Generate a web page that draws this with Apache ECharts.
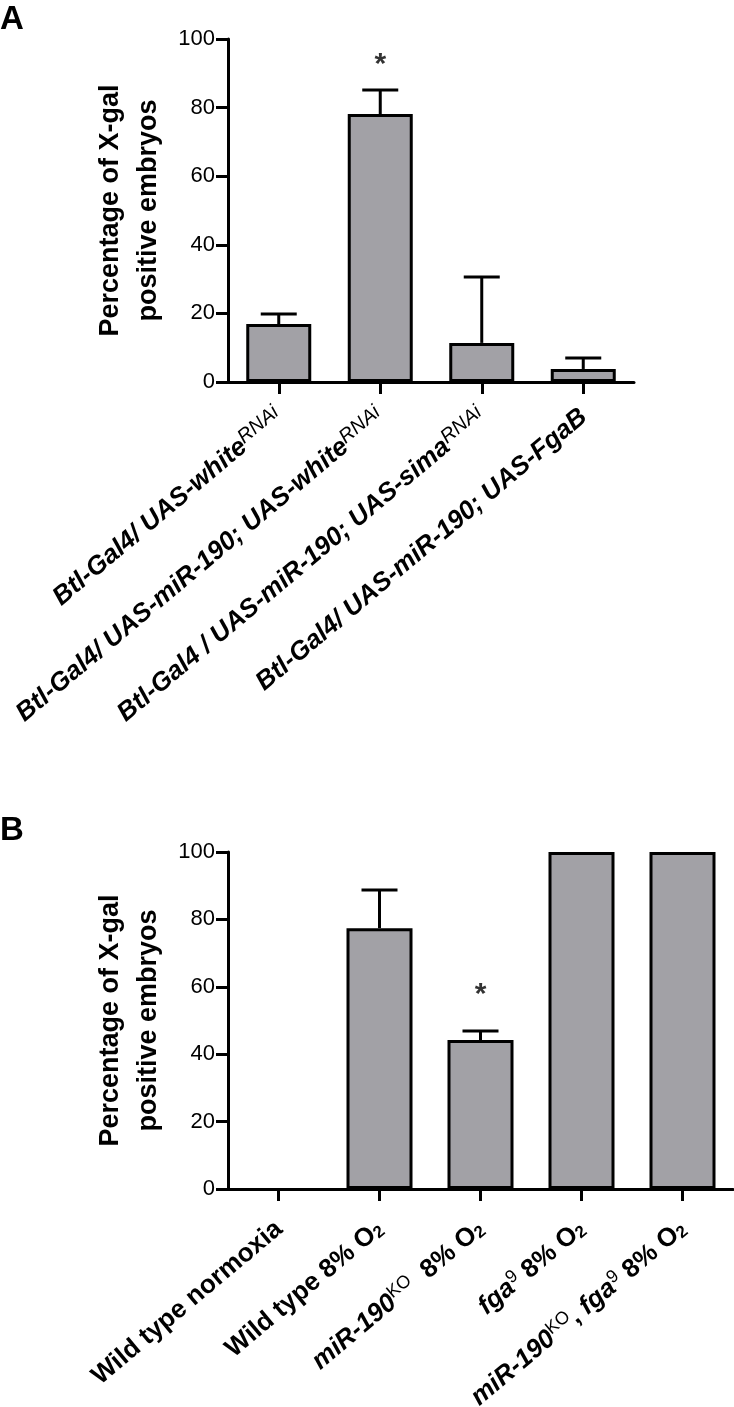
<!DOCTYPE html>
<html>
<head>
<meta charset="utf-8">
<script src="https://cdn.jsdelivr.net/npm/echarts@6/dist/echarts.min.js"></script>
<style>
    html, body { margin: 0; padding: 0; background: #fff; }
    #myChart { width: 734px; height: 1407px; }
</style>
</head>
<body>
<div id="myChart"></div>
<script>
    // panel A
    var catA = [
        '{b|Btl-Gal4/ UAS-white}{s|RNAi}',
        '{b|Btl-Gal4/ UAS-miR-190; UAS-white}{s|RNAi}',
        '{b|Btl-Gal4 / UAS-miR-190; UAS-sima}{s|RNAi}',
        '{b|Btl-Gal4/ UAS-miR-190; UAS-FgaB}'
    ];
    var valA = [16.9, 78.1, 11.4, 3.8];
    var errA = [19.8, 85.1, 30.6, 7.0];
    var starA = [null, 92.5, null, null];

    // panel B
    var catB = [
        '{u|Wild type normoxia}',
        '{u|Wild type 8% O}{sub|2}',
        '{i|miR-190}{sup|KO}{u|  8% O}{sub|2}',
        '{i|fga}{sup|9}{u| 8% O}{sub|2}',
        '{i|miR-190}{sup|KO}{u|, }{i|fga}{sup|9}{u| 8% O}{sub|2}'
    ];
    var valB = [0, 77.4, 44.2, 100, 100];
    var errB = [null, 88.7, 46.9, null, null];
    var starB = [null, null, 57.5, null, null];

    var yTicks = [0, 20, 40, 60, 80, 100];

    var font = 'Liberation Sans, Arial, sans-serif';
    var barFill = '#a2a1a6';

    function errorSeries (idx, vals, errs) {
        return {
            type: 'custom',
            xAxisIndex: idx,
            yAxisIndex: idx,
            z: 1,
            data: vals.map(function (v, i) { return [i, v, errs[i] == null ? -1 : errs[i]]; }),
            renderItem: function (params, api) {
                var top = api.value(2);
                if (!(top > 0)) return;
                var p0 = api.coord([api.value(0), api.value(1)]);
                var p1 = api.coord([api.value(0), top]);
                var st = {stroke: '#000', lineWidth: 3};
                return {
                    type: 'group',
                    children: [
                        {type: 'line', shape: {x1: p0[0], y1: p0[1], x2: p1[0], y2: p1[1]}, style: st},
                        {type: 'line', shape: {x1: p1[0] - 18, y1: p1[1], x2: p1[0] + 18, y2: p1[1]}, style: st}
                    ]
                };
            }
        };
    }

    function starSeries (idx, vals) {
        return {
            type: 'scatter',
            xAxisIndex: idx,
            yAxisIndex: idx,
            symbolSize: 1,
            itemStyle: {color: 'transparent'},
            data: vals,
            label: {
                show: true,
                position: 'inside',
                formatter: '*',
                color: '#000',
                fontSize: 30,
                fontWeight: 'bold',
                fontFamily: font
            }
        };
    }

    function barData (vals) {
        // a zero bar has no outline in the original
        return vals.map(function (v) {
            return v === 0 ? {value: v, itemStyle: {borderWidth: 0}} : v;
        });
    }

    function yAxisFor (idx) {
        return {
            type: 'value',
            gridIndex: idx,
            min: yTicks[0],
            max: yTicks[yTicks.length - 1],
            interval: yTicks[1] - yTicks[0],
            name: 'Percentage of X-gal\npositive embryos',
            nameLocation: 'middle',
            nameGap: 60,
            nameTextStyle: {
                fontFamily: font,
                fontWeight: 'bold',
                fontSize: 27,
                lineHeight: 38,
                color: '#000'
            },
            axisLine: {show: true, lineStyle: {color: '#000', width: 3}},
            axisTick: {show: true, length: 12, lineStyle: {color: '#000', width: 3}},
            axisLabel: {color: '#000', fontSize: 22, fontFamily: font, margin: 13},
            splitLine: {show: false}
        };
    }

    var axisLineStyle = {show: true, lineStyle: {color: '#000', width: 3}};
    var axisTickStyle = {show: true, length: 12, alignWithLabel: true, lineStyle: {color: '#000', width: 3}};

    var myChart = echarts.init(document.getElementById('myChart'));
    myChart.setOption({
        backgroundColor: '#fff',
        animation: false,
        title: [
            {text: 'A', left: 0, top: 3, padding: 0, textStyle: {fontFamily: font, fontWeight: 'bold', fontSize: 33, color: '#000'}},
            {text: 'B', left: 0, top: 814, padding: 0, textStyle: {fontFamily: font, fontWeight: 'bold', fontSize: 33, color: '#000'}}
        ],
        grid: [
            {left: 228, top: 39, width: 406, height: 343, containLabel: false, outerBoundsMode: 'none'},
            {left: 228, top: 852, width: 505, height: 337, containLabel: false, outerBoundsMode: 'none'}
        ],
        xAxis: [
            {
                type: 'category',
                gridIndex: 0,
                data: catA,
                axisLine: axisLineStyle,
                axisTick: axisTickStyle,
                axisLabel: {
                    interval: 0,
                    rotate: 40,
                    margin: 31,
                    color: '#000',
                    rich: {
                        b: {fontFamily: font, fontWeight: 'bold', fontStyle: 'italic', fontSize: 26, lineHeight: 28, verticalAlign: 'bottom', color: '#000'},
                        s: {fontFamily: font, fontStyle: 'italic', fontSize: 20, lineHeight: 20, padding: [0, 0, 38, 0], verticalAlign: 'top', color: '#000'}
                    }
                }
            },
            {
                type: 'category',
                gridIndex: 1,
                data: catB,
                axisLine: axisLineStyle,
                axisTick: axisTickStyle,
                axisLabel: {
                    interval: 0,
                    rotate: 40,
                    margin: 36,
                    color: '#000',
                    rich: {
                        u: {fontFamily: font, fontWeight: 'bold', fontSize: 26, lineHeight: 28, verticalAlign: 'bottom', color: '#000'},
                        i: {fontFamily: font, fontWeight: 'bold', fontStyle: 'italic', fontSize: 26, lineHeight: 28, verticalAlign: 'bottom', color: '#000'},
                        sup: {fontFamily: font, fontSize: 18, lineHeight: 18, padding: [0, 0, 34, 0], verticalAlign: 'top', color: '#000'},
                        sub: {fontFamily: font, fontWeight: 'bold', fontSize: 17, lineHeight: 16, verticalAlign: 'bottom', color: '#000'}
                    }
                }
            }
        ],
        yAxis: [yAxisFor(0), yAxisFor(1)],
        series: [
            {
                type: 'bar',
                xAxisIndex: 0,
                yAxisIndex: 0,
                z: 2,
                data: barData(valA),
                barWidth: 65,
                itemStyle: {color: barFill, borderColor: '#000', borderWidth: 3}
            },
            errorSeries(0, valA, errA),
            starSeries(0, starA),
            {
                type: 'bar',
                xAxisIndex: 1,
                yAxisIndex: 1,
                z: 2,
                data: barData(valB),
                barWidth: 66,
                itemStyle: {color: barFill, borderColor: '#000', borderWidth: 3}
            },
            errorSeries(1, valB, errB),
            starSeries(1, starB)
        ]
    });
</script>
</body>
</html>
